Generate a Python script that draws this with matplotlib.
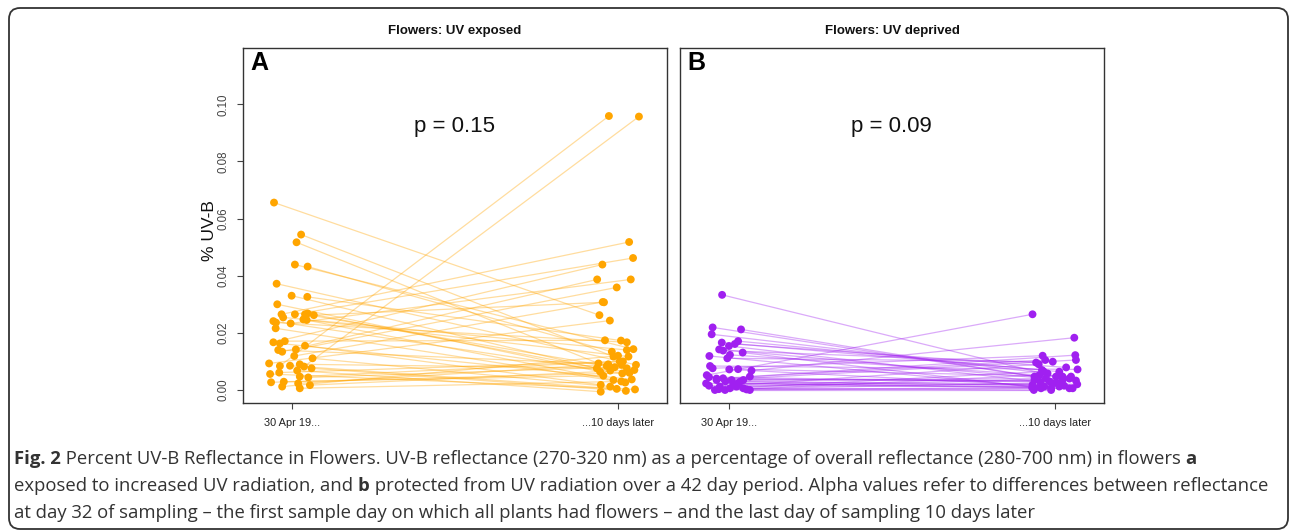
import matplotlib
matplotlib.use("Agg")
import matplotlib.pyplot as plt
import matplotlib.patches as mpatches
import matplotlib.transforms as mtrans

# ---------------- data ----------------
tick_labels = ["30 Apr 19...", "...10 days later"]
panel_titles = ["Flowers: UV exposed", "Flowers: UV deprived"]
panel_letters = ["A", "B"]
p_values = ["p = 0.15", "p = 0.09"]

# Panel A (UV exposed): paired values, first day and 10 days later
a_day1 = [0.0656, 0.0544, 0.0517, 0.0439, 0.0432, 0.0372, 0.0330, 0.0326, 0.0300, 0.0265,
          0.0254, 0.0265, 0.0265, 0.0268, 0.0262, 0.0241, 0.0236, 0.0233, 0.0247, 0.0245,
          0.0216, 0.0167, 0.0163, 0.0171, 0.0134, 0.0140, 0.0142, 0.0155, 0.0119, 0.0111,
          0.0093, 0.0084, 0.0085, 0.0090, 0.0082, 0.0076, 0.0061, 0.0056, 0.0068, 0.0044,
          0.0047, 0.0027, 0.0029, 0.0012, 0.0023, 0.0017, 0.0006]
a_day1_jit = [-0.054, 0.029, 0.015, 0.010, 0.049, -0.046, 0.000, 0.048, -0.044, -0.031,
              -0.026, 0.010, 0.041, 0.049, 0.068, -0.056, -0.048, -0.003, 0.036, 0.046,
              -0.049, -0.056, -0.036, -0.021, -0.029, -0.041, 0.013, 0.041, 0.008, 0.064,
              -0.069, -0.036, -0.005, 0.025, 0.038, 0.061, -0.038, -0.066, 0.017, 0.051,
              0.025, -0.063, -0.024, -0.029, 0.020, 0.056, 0.025]
a_day2 = [0.0262, 0.0117, 0.0093, 0.0143, 0.0134, 0.0088, 0.0076, 0.0173, 0.0064, 0.0518,
          0.0140, 0.0462, 0.0084, 0.0068, 0.0307, 0.0058, 0.0167, 0.0387, 0.0035, 0.0117,
          0.0026, 0.0439, 0.0037, 0.0174, 0.0387, 0.0088, 0.0359, 0.0018, 0.0308, 0.0012,
          0.0243, 0.0959, 0.0004, 0.0076, 0.0957, -0.0003, 0.0100, 0.0002, -0.0006, 0.0080,
          0.0100, 0.0060, 0.0050, 0.0120, 0.0090, 0.0070, 0.0030]
a_day2_jit = [-0.057, -0.014, -0.060, 0.047, -0.019, 0.055, -0.065, 0.009, -0.055, 0.034,
              0.027, 0.046, -0.035, -0.024, -0.043, 0.013, 0.027, 0.039, -0.014, 0.032,
              0.022, -0.048, 0.042, -0.040, -0.064, 0.011, -0.004, -0.053, -0.047, -0.024,
              -0.025, -0.028, -0.004, 0.027, 0.064, 0.024, 0.005, 0.052, -0.053, -0.010,
              0.015, 0.035, -0.045, 0.000, -0.030, 0.050, 0.010]

# Panel B (UV deprived)
b_day1 = [0.0333, 0.0219, 0.0212, 0.0195, 0.0166, 0.0171, 0.0161, 0.0154, 0.0142, 0.0138,
          0.0131, 0.0123, 0.0111, 0.0119, 0.0084, 0.0076, 0.0072, 0.0073, 0.0068, 0.0052,
          0.0047, 0.0023, 0.0035, 0.0041, 0.0035, 0.0023, 0.0012, 0.0006, 0.0006, 0.0000,
          0.0000, 0.0023, 0.0045, 0.0040, 0.0030, 0.0035, 0.0029, 0.0002, 0.0000, 0.0003,
          0.0015, 0.0012]
b_day1_jit = [-0.020, -0.049, 0.038, -0.052, -0.021, 0.029, 0.019, 0.001, -0.029, -0.017,
              0.043, 0.004, -0.004, -0.059, -0.057, -0.049, 0.002, 0.029, 0.070, -0.067,
              0.065, -0.069, -0.037, -0.017, 0.045, 0.014, -0.027, 0.004, 0.045, 0.065,
              -0.042, 0.029, -0.060, -0.037, -0.010, 0.009, 0.035, 0.055, -0.011, -0.030,
              -0.060, 0.024]
b_day2 = [0.0047, 0.0047, 0.0041, 0.0058, 0.0070, 0.0064, 0.0079, 0.0023, 0.0035, 0.0096,
          0.0006, 0.0047, 0.0099, 0.0006, 0.0072, 0.0120, 0.0012, 0.0047, 0.0183, 0.0265,
          0.0122, 0.0018, 0.0105, 0.0105, 0.0033, 0.0006, 0.0090, 0.0065, 0.0000, 0.0000,
          0.0006, 0.0010, 0.0028, 0.0030, 0.0015, 0.0040, 0.0020, 0.0008, 0.0052, 0.0025,
          0.0012, 0.0036]
b_day2_jit = [0.003, -0.063, -0.028, -0.023, -0.040, 0.013, 0.034, -0.007, 0.023, -0.058,
              -0.043, 0.023, -0.007, -0.012, 0.069, -0.038, 0.013, 0.049, 0.059, -0.069,
              0.062, -0.069, 0.064, -0.030, 0.064, 0.044, -0.050, -0.035, -0.065, -0.012,
              0.054, -0.048, -0.045, -0.017, 0.028, 0.044, 0.068, -0.070, -0.048, 0.005,
              -0.033, -0.063]

panels = [
    (a_day1, a_day1_jit, a_day2, a_day2_jit, "#FFA500"),
    (b_day1, b_day1_jit, b_day2, b_day2_jit, "#A020F0"),
]

y_ticks = [0.00, 0.02, 0.04, 0.06, 0.08, 0.10]

# ---------------- figure ----------------
W, H = 1290, 532
fig = plt.figure(figsize=(W / 100, H / 100), dpi=100)
sans = ["Liberation Sans", "DejaVu Sans"]

# outer rounded frame
frame = mpatches.FancyBboxPatch((9, 3), 1279, 521,
                                boxstyle="round,pad=0,rounding_size=11",
                                transform=mtrans.IdentityTransform(),
                                facecolor="white", edgecolor="#333333", linewidth=1.3,
                                zorder=-10)
fig.add_artist(frame)

ax_lefts = [243, 680]
ax_w, ax_top, ax_bot = 424, 48, 403
axes = []
for i, (d1, j1, d2, j2, col) in enumerate(panels):
    ax = fig.add_axes([ax_lefts[i] / W, 1 - ax_bot / H, ax_w / W, (ax_bot - ax_top) / H])
    axes.append(ax)
    x1 = [1 + j for j in j1]
    x2 = [2 + j for j in j2]
    for k in range(len(d1)):
        ax.plot([x1[k], x2[k]], [d1[k], d2[k]], color=col, alpha=0.38, lw=0.9,
                solid_capstyle="round", zorder=2)
    ax.scatter(x1, d1, s=32, color=col, edgecolors="none", zorder=3)
    ax.scatter(x2, d2, s=32, color=col, edgecolors="none", zorder=3)
    ax.set_xlim(0.851, 2.150)
    ax.set_ylim(-0.00455, 0.1197)
    ax.set_xticks([1, 2])
    ax.set_xticklabels(tick_labels, fontsize=7.9, family=sans, color="#222222")
    ax.tick_params(axis="x", length=4.5, width=0.8, color="#444444", pad=6)
    for s in ax.spines.values():
        s.set_color("#333333")
        s.set_linewidth(1.0)
    if i == 0:
        ax.set_yticks(y_ticks)
        ax.set_yticklabels([f"{v:.2f}" for v in y_ticks], rotation=90, va="center",
                           fontsize=8.3, family=sans, color="#444444")
        ax.tick_params(axis="y", length=4.5, width=0.8, color="#444444", pad=5)
        ax.set_ylabel("% UV-B", fontsize=12.5, family=sans, color="#111111")
        ax.yaxis.set_label_coords(-0.061, 0.485)
    else:
        ax.set_yticks([])
    ax.text(0.5, 1.048, panel_titles[i], transform=ax.transAxes, ha="center", va="center",
            fontsize=9.5, fontweight="bold", family=sans, color="#111111")
    ax.text(0.018, 0.958, panel_letters[i], transform=ax.transAxes, ha="left", va="center",
            fontsize=18, fontweight="bold", family=sans, color="#000000")
    ax.text(1.5, 0.0924, p_values[i], ha="center", va="center", fontsize=16,
            family=sans, color="#111111")

# ---------------- caption ----------------
cap_lines = [
    [("Fig. 2", True),
     (" Percent UV-B Reflectance in Flowers. UV-B reflectance (270-320 nm) as a percentage of overall reflectance (280-700 nm) in flowers ", False),
     ("a", True)],
    [("exposed to increased UV radiation, and ", False), ("b", True),
     (" protected from UV radiation over a 42 day period. Alpha values refer to differences between reflectance", False)],
    [("at day 32 of sampling \u2013 the first sample day on which all plants had flowers \u2013 and the last day of sampling 10 days later", False)],
]
cap_y = [459, 486, 513]
cap_font = ["Open Sans", "DejaVu Sans"]
cap_size = 13.3
renderer = fig.canvas.get_renderer()
for line, yy in zip(cap_lines, cap_y):
    x = 14
    for txt, bold in line:
        t = fig.text(x / W, 1 - yy / H, txt, ha="left", va="center", fontsize=cap_size,
                     family=cap_font, fontweight="bold" if bold else "normal",
                     color="#333333")
        bb = t.get_window_extent(renderer=renderer)
        x = bb.x1

fig.savefig("out.png", dpi=100)
